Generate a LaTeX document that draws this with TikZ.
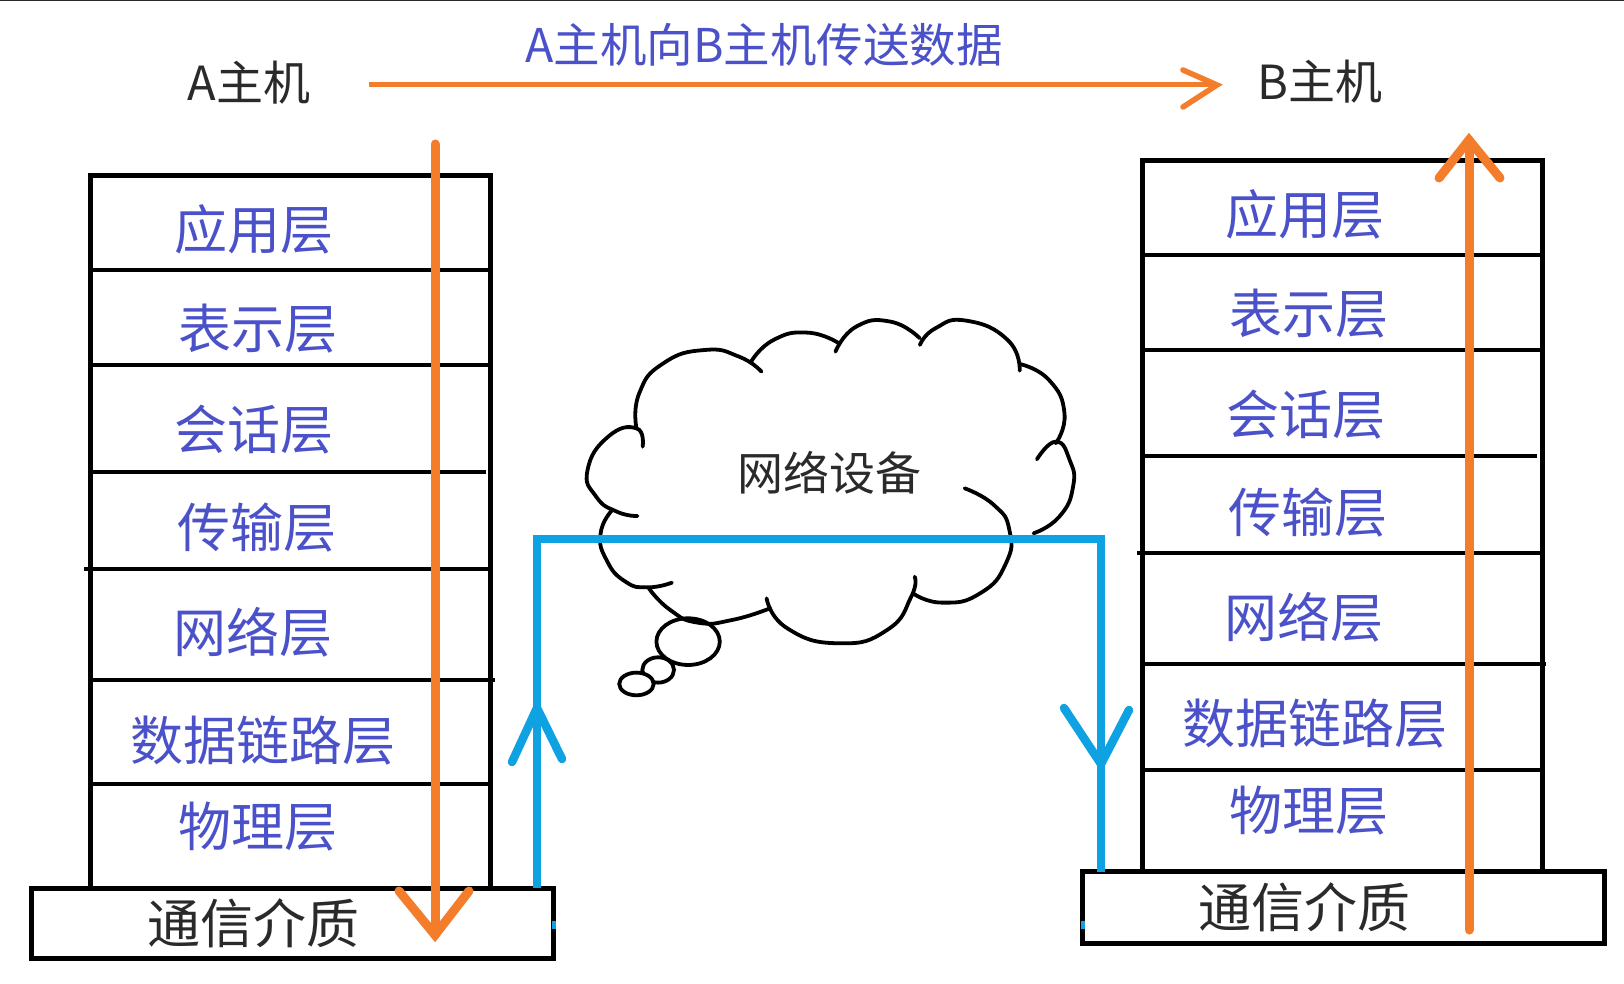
\documentclass[tikz,border=0pt]{standalone}
\usepackage{fontspec}
\setmainfont{Noto Sans CJK SC}
\usetikzlibrary{arrows.meta}
\definecolor{lay}{HTML}{4B52C9}
\definecolor{ora}{HTML}{F47D2C}
\definecolor{blu}{HTML}{0EA2E3}
\definecolor{ink}{HTML}{2A2A2A}
\tikzset{
  x=1pt,y=-1pt,
  frame/.style={draw=black,line width=5pt},
  divider/.style={draw=black,line width=4.2pt},
  layer/.style={text=lay,font=\fontsize{53}{53}\selectfont,inner sep=0pt},
  medium/.style={text=ink,font=\fontsize{53}{53}\selectfont,inner sep=0pt},
  host/.style={text=ink,font=\fontsize{47}{47}\selectfont,inner sep=0pt},
  blueflow/.style={draw=blu,line width=8.5pt},
  bluehead/.style={draw=blu,line width=8.5pt,line cap=round},
  cloudline/.style={draw=black,line width=3.8pt,line cap=round},
  lobe/.style={cloudline,smooth,tension=0.9},
}
\begin{document}
\begin{tikzpicture}
\useasboundingbox (0,0) rectangle (1624,984);
\fill[white] (0,0) rectangle (1624,984);
\fill[ink] (0,0) rectangle (1624,1.5);

% left stack
\draw[frame] (90,886) -- (90,176) -- (490,176) -- (490,886);
\draw[divider] (90,270) -- (490,270);
\draw[divider] (90,365) -- (490,365);
\draw[divider] (90,472) -- (486,472);
\draw[divider] (84,569) -- (490,569);
\draw[divider] (90,680) -- (495,680);
\draw[divider] (90,784) -- (490,784);
\node[draw=black,line width=5pt,minimum width=522pt,minimum height=70pt,inner sep=0pt] (mediumboxA) at (292.5,923) {};

% right stack
\draw[frame] (1142,871) -- (1142,161) -- (1542,161) -- (1542,871);
\draw[divider] (1142,255) -- (1542,255);
\draw[divider] (1142,350) -- (1542,350);
\draw[divider] (1142,456) -- (1537,456);
\draw[divider] (1137,553) -- (1542,553);
\draw[divider] (1142,664) -- (1546,664);
\draw[divider] (1142,770) -- (1542,770);
\node[draw=black,line width=5pt,minimum width=522pt,minimum height=72pt,inner sep=0pt] (mediumboxB) at (1343.5,907) {};

% layer labels, left
\node[layer] (a7) at (254,229) {应用层};
\node[layer] (a6) at (258,329) {表示层};
\node[layer] (a5) at (254,430) {会话层};
\node[layer] (a4) at (257,528) {传输层};
\node[layer] (a3) at (253,632) {网络层};
\node[layer] (a2) at (263,741) {数据链路层};
\node[layer] (a1) at (258,827) {物理层};
\node[medium] (am) at (253,923) {通信介质};

% layer labels, right
\node[layer] (b7) at (1305,214) {应用层};
\node[layer] (b6) at (1309,314) {表示层};
\node[layer] (b5) at (1306,415) {会话层};
\node[layer] (b4) at (1308,513) {传输层};
\node[layer] (b3) at (1304,617) {网络层};
\node[layer] (b2) at (1315,724) {数据链路层};
\node[layer] (b1) at (1309,811) {物理层};
\node[medium] (bm) at (1304,907) {通信介质};

% hosts and title
\node[host] (hostA) at (249,83) {A主机};
\node[host] (hostB) at (1320,82) {B主机};
\node[text=lay,font=\fontsize{46.5}{46.5}\selectfont,inner sep=0pt] (title) at (764,45) {A主机向B主机传送数据};

% cloud, traced in a local frame
\begin{scope}[shift={(560,300)},x=0.34435pt,y=-0.3333pt]
\draw[lobe] plot coordinates {(240,440) (222,385) (140,410) (80,510) (105,590) (165,635) (225,648)};
\draw[lobe] plot coordinates {(150,632) (118,700) (135,780) (190,845) (255,862) (325,848)};
\draw[lobe] plot coordinates {(258,865) (320,930) (400,968) (500,960) (610,925)};
\draw[lobe] plot coordinates {(600,895) (660,985) (810,1030) (950,990) (1020,890) (1030,830)};
\draw[lobe] plot coordinates {(1025,880) (1110,908) (1220,880) (1295,790) (1305,690) (1260,615) (1175,565)};
\draw[lobe] plot coordinates {(1375,700) (1450,650) (1490,560) (1480,480) (1440,425) (1385,478)};
\draw[lobe] plot coordinates {(1440,430) (1465,340) (1420,240) (1335,192)};
\draw[lobe] plot coordinates {(1335,212) (1300,120) (1180,62) (1090,85) (1045,135)};
\draw[lobe] plot coordinates {(1045,115) (960,65) (860,80) (800,155)};
\draw[lobe] plot coordinates {(810,130) (720,98) (620,120) (555,185)};
\draw[lobe] plot coordinates {(585,215) (520,170) (420,150) (300,190) (230,280) (222,385)};
\draw[cloudline] (372,1025) ellipse [x radius=92,y radius=70];
\draw[cloudline] (285,1110) ellipse [x radius=46,y radius=38];
\draw[cloudline,fill=white] (222,1152) ellipse [x radius=50,y radius=34];
\end{scope}
\node[text=ink,font=\fontsize{46}{46}\selectfont,inner sep=0pt] (cloudtext) at (829,473) {网络设备};

% blue path
\coordinate (blueA) at (537,888);
\coordinate (blueTL) at (537,539);
\coordinate (blueTR) at (1101,539);
\coordinate (blueB) at (1101,872);
\draw[blueflow,line join=miter] (blueA) -- (blueTL) -- (blueTR) -- (blueB);
\coordinate (bluetipA) at (537,708);
\coordinate (bluetipB) at (1101,764);
\draw[bluehead] (512,762) -- (bluetipA) -- (562,759);
\draw[bluehead] (1064,708) -- (bluetipB) -- (1129,710);
\fill[blu] (552,921) rectangle (556,929);
\fill[blu] (1081,921) rectangle (1085,929);

% orange arrows
\coordinate (oa1) at (369,85);
\coordinate (oa2) at (1217,85);
\draw[draw=ora,line width=5pt] (oa1) -- (oa2);
\draw[draw=ora,line width=5.5pt,line cap=round,line join=miter] (1183,70) -- (oa2) -- (1183,107);
\coordinate (ob1) at (435,144);
\coordinate (ob2) at (435,935);
\draw[draw=ora,line width=9pt,line cap=round] (ob1) -- (ob2);
\draw[draw=ora,line width=9pt,line cap=round,line join=miter] (399,891) -- (ob2) -- (469,891);
\coordinate (oc1) at (1469,930);
\coordinate (oc2) at (1469,140);
\draw[draw=ora,line width=9pt,line cap=round] (oc1) -- (oc2);
\draw[draw=ora,line width=9pt,line cap=round,line join=miter] (1439,178) -- (oc2) -- (1500,178);
\end{tikzpicture}
\end{document}
